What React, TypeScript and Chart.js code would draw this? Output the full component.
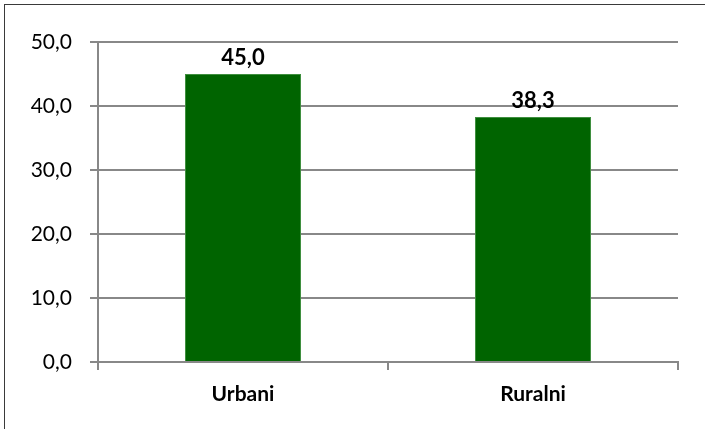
import React, { useEffect, useRef } from "react";
import { Chart, registerables } from "chart.js";

Chart.register(...registerables);

const categories: string[] = ["Urbani", "Ruralni"];
const values: number[] = [45.0, 38.3];
const yTicks: number[] = [0, 10, 20, 30, 40, 50];

const fmt = (v: number) => v.toFixed(1).replace(".", ",");

const FONT = "Lato, 'Open Sans', sans-serif";
const GRID = "#888888";

const valueLabels = {
  id: "valueLabels",
  afterDatasetsDraw(chart: any) {
    const ctx = chart.ctx;
    const meta = chart.getDatasetMeta(0);
    ctx.save();
    ctx.font = `bold 22px ${FONT}`;
    ctx.fillStyle = "#000000";
    ctx.textAlign = "center";
    ctx.textBaseline = "alphabetic";
    meta.data.forEach((el: any, i: number) => {
      ctx.fillText(fmt(values[i]), el.x, el.y - 9);
    });
    ctx.restore();
  },
};

export default function App() {
  const ref = useRef<HTMLCanvasElement | null>(null);

  useEffect(() => {
    document.body.style.margin = "0";
    const canvas = ref.current;
    if (!canvas) return;
    const chart = new Chart(canvas, {
      type: "bar",
      data: {
        labels: categories,
        datasets: [
          {
            data: values,
            backgroundColor: "#006400",
            borderColor: "#3f8f3f",
            borderWidth: 1,
            barPercentage: 0.4,
            categoryPercentage: 1,
          },
        ],
      },
      options: {
        animation: false,
        responsive: false,
        maintainAspectRatio: false,
        layout: { padding: { top: 42, right: 27, bottom: 0, left: 0 } },
        plugins: {
          legend: { display: false },
          tooltip: { enabled: false },
        },
        scales: {
          x: {
            type: "category",
            offset: true,
            grid: {
              display: true,
              offset: true,
              drawOnChartArea: false,
              drawTicks: true,
              tickLength: 8,
              color: GRID,
              lineWidth: 2,
            },
            border: { display: true, color: GRID, width: 2 },
            ticks: {
              color: "#000000",
              font: { family: FONT, size: 21, weight: "bold" },
              padding: 12,
            },
            afterFit(scale: any) {
              scale.height = 67;
            },
          },
          y: {
            min: 0,
            max: 50,
            afterBuildTicks(scale: any) {
              scale.ticks = yTicks.map((v) => ({ value: v }));
            },
            grid: {
              display: true,
              drawOnChartArea: true,
              drawTicks: true,
              tickLength: 8,
              color: GRID,
              lineWidth: 2,
            },
            border: { display: true, color: GRID, width: 2 },
            ticks: {
              color: "#000000",
              font: { family: FONT, size: 21 },
              padding: 18,
              callback: (v: any) => fmt(Number(v)),
            },
            afterFit(scale: any) {
              scale.width = 98;
            },
          },
        },
      },
      plugins: [valueLabels],
    });
    return () => chart.destroy();
  }, []);

  return (
    <div
      style={{
        position: "absolute",
        left: 0,
        top: 0,
        width: 705,
        height: 429,
        overflow: "hidden",
        background: "#ffffff",
      }}
    >
      <div
        style={{
          position: "absolute",
          left: 4,
          top: 4,
          width: 760,
          height: 480,
          borderTop: "1px solid #3a3a3a",
          borderLeft: "1px solid #3a3a3a",
        }}
      />
      <canvas
        ref={ref}
        width={705}
        height={429}
        style={{ position: "absolute", left: 0, top: 0, width: 705, height: 429 }}
      />
    </div>
  );
}
